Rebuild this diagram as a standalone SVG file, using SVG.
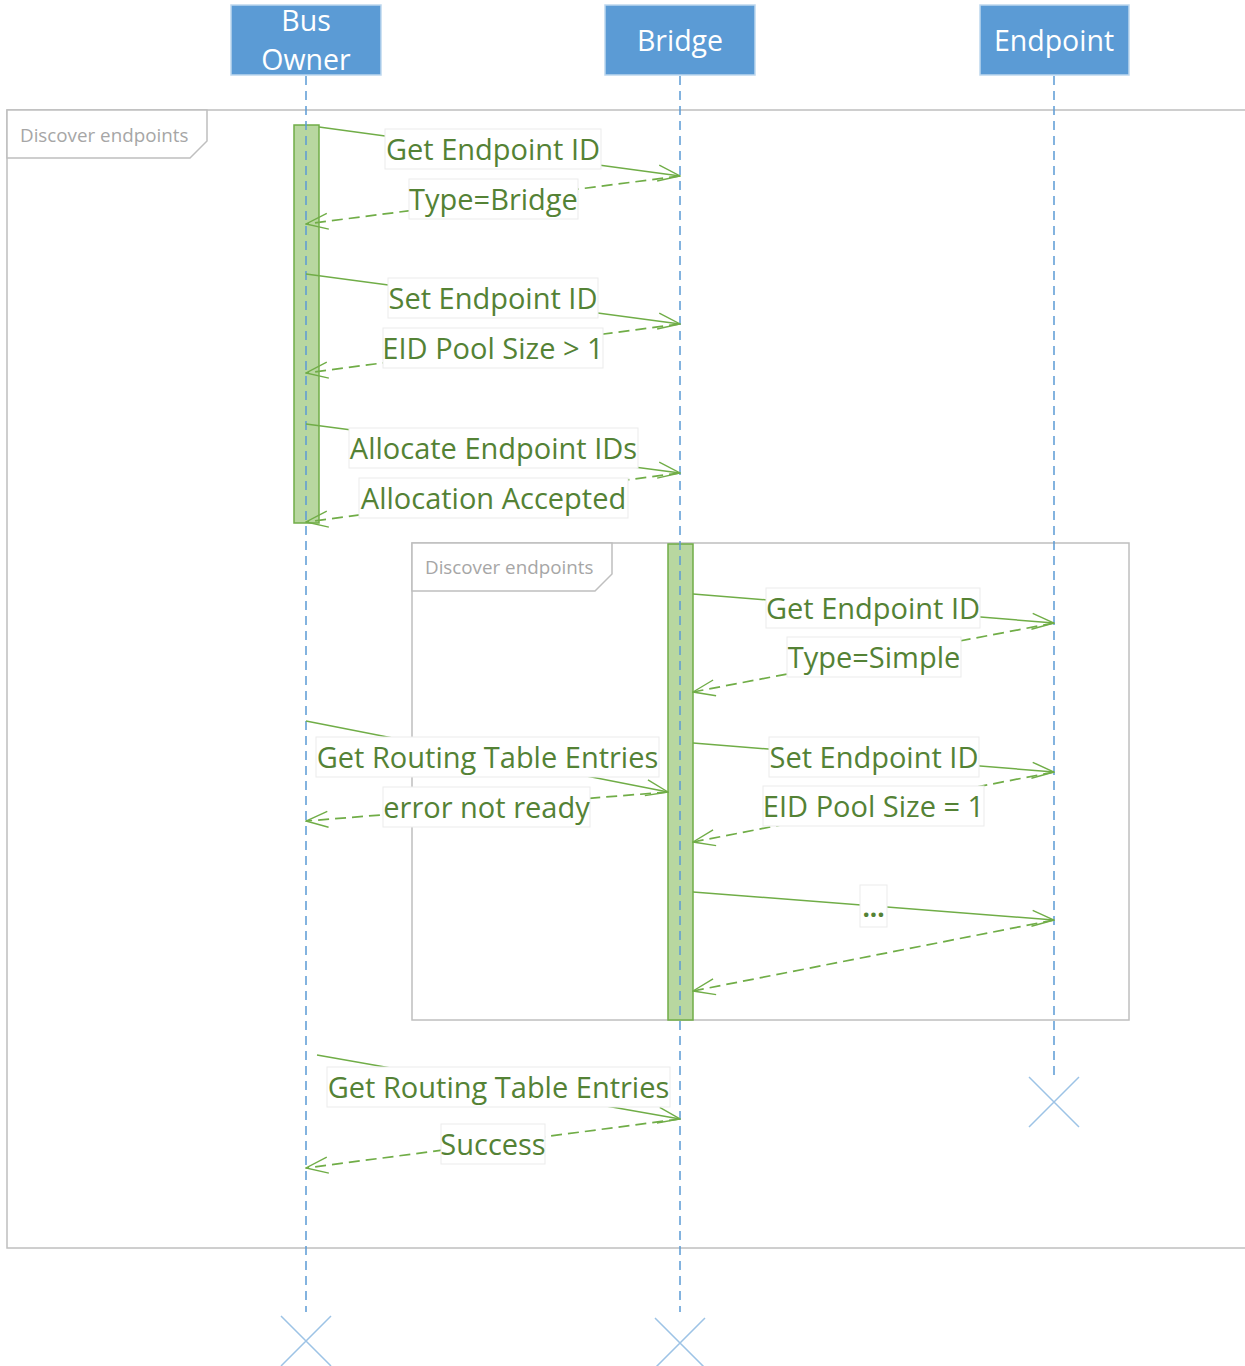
<svg xmlns="http://www.w3.org/2000/svg" width="1245" height="1366" viewBox="0 0 1245 1366">
<style>
.hdr{fill:#5b9bd5;stroke:#bdd7ee;stroke-width:1.5}
.hdrt{font-family:"Open Sans","Noto Sans",sans-serif;font-size:28.5px;fill:#ffffff;text-anchor:middle}
.frame{fill:none;stroke:#bfbfbf;stroke-width:1.5}
.ftab{fill:#ffffff;stroke:#bfbfbf;stroke-width:1.5}
.ftxt{font-family:"Open Sans","Noto Sans",sans-serif;font-size:18.8px;fill:#a6a6a6}
.life{stroke:#5b9bd5;stroke-width:1.5;stroke-dasharray:9 6;fill:none}
.x{stroke:#9dc3e6;stroke-width:1.5;fill:none}
.act{fill:#b8d7a0;stroke:#70ad47;stroke-width:1.5}
.msg{stroke:#70ad47;stroke-width:1.5;fill:none;marker-end:url(#arr)}
.ret{stroke:#70ad47;stroke-width:1.7;fill:none;stroke-dasharray:11 6;marker-end:url(#arr)}
.lb{fill:#ffffff;stroke:#ebebeb;stroke-width:1}
.lt{font-family:"Open Sans","Noto Sans",sans-serif;font-size:29px;fill:#548235;text-anchor:middle}
</style>
<defs>
<marker id="arr" viewBox="0 0 24 18" refX="23" refY="9" markerWidth="24" markerHeight="18" markerUnits="userSpaceOnUse" orient="auto">
<path d="M1,1 L23,9 L1,17" fill="none" stroke="#70ad47" stroke-width="1.4"/>
</marker>
</defs>
<rect width="1245" height="1366" fill="#ffffff"/>

<g id="frame-outer">
<rect class="frame" x="7" y="110" width="1260" height="1138"/>
<path class="ftab" d="M7,110 H207 V141 L190,158 H7 Z"/>
<text class="ftxt" x="20" y="142">Discover endpoints</text>
</g>
<g id="frame-inner">
<rect class="frame" x="412" y="543" width="717" height="477"/>
<path class="ftab" d="M412,543 H612 V574 L595,591 H412 Z"/>
<text class="ftxt" x="425" y="574">Discover endpoints</text>
</g>

<g id="bus-owner">
<rect class="hdr" x="231" y="5" width="150" height="70"/>
<text class="hdrt" x="306" y="31">Bus</text>
<text class="hdrt" x="306" y="70">Owner</text>
<rect class="act" x="294" y="125" width="25" height="398"/>
<line class="life" x1="306" y1="76" x2="306" y2="1312"/>
<path class="x" d="M281,1316 L331,1366 M331,1316 L281,1366"/>
</g>
<g id="bridge">
<rect class="hdr" x="605" y="5" width="150" height="70"/>
<text class="hdrt" x="680" y="51">Bridge</text>
<rect class="act" x="668" y="544" width="25" height="476"/>
<line class="life" x1="680" y1="76" x2="680" y2="1312"/>
<path class="x" d="M655,1318 L705,1368 M705,1318 L655,1368"/>
</g>
<g id="endpoint">
<rect class="hdr" x="980" y="5" width="149" height="70"/>
<text class="hdrt" x="1054" y="51">Endpoint</text>
<line class="life" x1="1054" y1="76" x2="1054" y2="1077"/>
<path class="x" d="M1029,1077 L1079,1127 M1079,1077 L1029,1127"/>
</g>

<g id="connectors">
<line class="msg" x1="319" y1="127" x2="680" y2="176"/>
<line class="ret" x1="680" y1="176" x2="306" y2="224"/>
<line class="msg" x1="306" y1="274" x2="680" y2="324"/>
<line class="ret" x1="680" y1="324" x2="306" y2="373"/>
<line class="msg" x1="306" y1="424" x2="680" y2="473"/>
<line class="ret" x1="680" y1="473" x2="306" y2="522"/>
<line class="msg" x1="693" y1="594" x2="1054" y2="623"/>
<line class="ret" x1="1054" y1="623" x2="693" y2="692"/>
<line class="msg" x1="693" y1="743" x2="1054" y2="772"/>
<line class="ret" x1="1054" y1="772" x2="693" y2="842"/>
<line class="msg" x1="693" y1="892" x2="1054" y2="920"/>
<line class="ret" x1="1054" y1="920" x2="693" y2="991"/>
<line class="msg" x1="306" y1="721" x2="668" y2="792"/>
<line class="ret" x1="668" y1="792" x2="306" y2="821"/>
<line class="msg" x1="317" y1="1055" x2="680" y2="1119"/>
<line class="ret" x1="680" y1="1119" x2="306" y2="1168"/>
</g>

<g id="labels">
<rect class="lb" x="385" y="129" width="216" height="40"/><text class="lt" x="493" y="160">Get Endpoint ID</text>
<rect class="lb" x="409" y="179" width="169" height="40"/><text class="lt" x="493.5" y="210">Type=Bridge</text>
<rect class="lb" x="388" y="278" width="210" height="40"/><text class="lt" x="493" y="309">Set Endpoint ID</text>
<rect class="lb" x="383" y="328" width="220" height="40"/><text class="lt" x="493" y="359">EID Pool Size &gt; 1</text>
<rect class="lb" x="349" y="428" width="289" height="40"/><text class="lt" x="493.5" y="459">Allocate Endpoint IDs</text>
<rect class="lb" x="359" y="478" width="269" height="40"/><text class="lt" x="493.5" y="509">Allocation Accepted</text>
<rect class="lb" x="766" y="588" width="214" height="40"/><text class="lt" x="873" y="619">Get Endpoint ID</text>
<rect class="lb" x="787" y="637" width="174" height="40"/><text class="lt" x="874" y="668">Type=Simple</text>
<rect class="lb" x="769" y="737" width="210" height="40"/><text class="lt" x="874" y="768">Set Endpoint ID</text>
<rect class="lb" x="763" y="786" width="221" height="40"/><text class="lt" x="873.5" y="817">EID Pool Size = 1</text>
<rect class="lb" x="860" y="885" width="27" height="42"/><text class="lt" x="873.5" y="917" style="font-size:26px;font-weight:bold">...</text>
<rect class="lb" x="316" y="737" width="343" height="40"/><text class="lt" x="487.5" y="768">Get Routing Table Entries</text>
<rect class="lb" x="383" y="787" width="207" height="40"/><text class="lt" x="486.5" y="818">error not ready</text>
<rect class="lb" x="327" y="1067" width="343" height="40"/><text class="lt" x="498.5" y="1098">Get Routing Table Entries</text>
<rect class="lb" x="441" y="1124" width="104" height="40"/><text class="lt" x="493" y="1155">Success</text>
</g>
</svg>
